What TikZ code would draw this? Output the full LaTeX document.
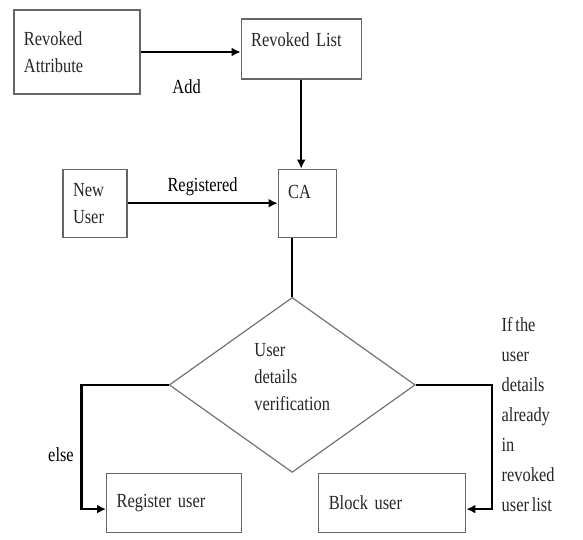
\documentclass[tikz,border=0pt]{standalone}
\usepackage{fontspec}
\setmainfont{Liberation Serif}[FakeStretch=0.82,WordSpace=0.7]
\usetikzlibrary{arrows.meta,positioning,shapes.geometric}

\begin{document}
\begin{tikzpicture}[
    node distance=50pt,
    font=\fontsize{10}{13.5}\selectfont,
    box/.style={draw=black!60, line width=0.6pt, align=left, inner xsep=5pt, text=black!85},
    dec/.style={draw=black!55, diamond, line width=0.6pt, align=left, minimum width=123pt, minimum height=87.5pt, inner sep=0pt, text=black!85},
    note/.style={align=left, text=black!85, font=\fontsize{10}{15}\selectfont},
    arr/.style={-{Latex[length=4.5pt,width=4.5pt]}, line width=1.2pt},
    lnk/.style={line width=1.2pt}
]
\useasboundingbox (0,0) rectangle (291.5pt,-270pt);

\node[box, minimum width=63pt, minimum height=42pt, text width=53pt] (ra) at (38.5pt,-26pt) {Revoked\\Attribute};
\node[box, minimum width=60pt, minimum height=30pt, text width=50pt, text depth=9pt, right=50pt of ra, yshift=1.5pt] (rl) {Revoked List};

\node[box, minimum width=29pt, minimum height=34pt, text width=19pt, text depth=11pt, below=44.5pt of rl, xshift=3pt] (ca) {CA};
\node[box, minimum width=32pt, minimum height=34pt, text width=22pt, left=75pt of ca] (nu) {New\\User};

\node[dec, below=29.5pt of ca, xshift=-7.5pt] (dia) {User\\details\\verification\\[-6pt]};

\node[box, minimum width=67.5pt, minimum height=29.5pt, text width=57.5pt, anchor=north east] (ru) at ([xshift=-25pt]dia.south) {Register user};
\node[box, minimum width=73.5pt, minimum height=29.5pt, text width=63.5pt, anchor=north west] (bu) at ([xshift=13pt]dia.south) {Block user};

\draw[arr] (ra.east) -- node[midway, below=10pt, xshift=-2pt] (add) {Add} (ra.east -| rl.west);
\draw[arr] (rl.south -| ca.north) ++(-3pt,0) -- ++(0,-44.5pt);
\draw[arr] (nu.east) -- node[midway, above=0pt] (reg) {Registered} (ca.west);
\draw[lnk] (dia.north |- ca.south) -- (dia.north);
\draw[arr] (dia.west) -- ++(-43.5pt,0) |- node[pos=0.28, left] (els) {else} ([yshift=-3pt]ru.west);
\draw[arr] (dia.east) -- ++(38pt,0) |- node[pos=0.12, right=1pt, note] (cond) {If the\\user\\details\\already\\in\\revoked\\user list} ([yshift=-3pt]bu.east);
\end{tikzpicture}
\end{document}
